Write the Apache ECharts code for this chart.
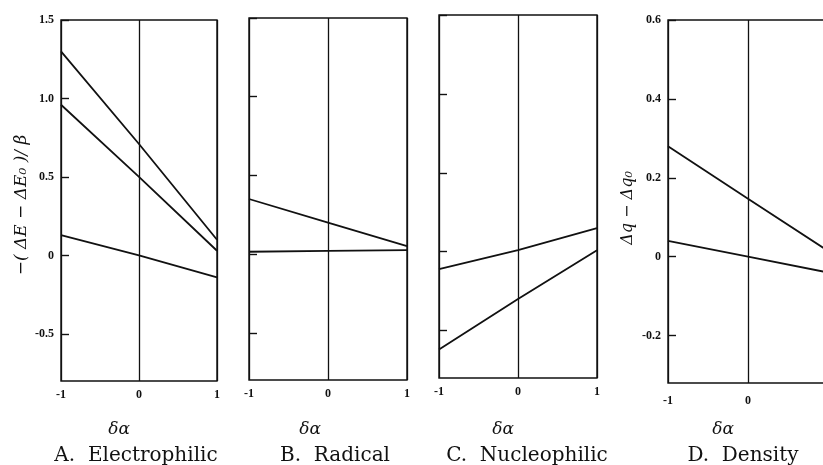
<!DOCTYPE html>
<html><head><meta charset="utf-8">
<script src="https://cdn.jsdelivr.net/npm/echarts@6/dist/echarts.min.js"></script>
<style>html,body{margin:0;padding:0;background:#fff}#c{width:823px;height:465px}</style>
</head><body><div id="c"></div>
<script>
// ---- data ----
var xVals = [-1, 0, 1];
var xTicks = [-1, 0, 1];
// A. Electrophilic
var elecTop = [1.30, 0.71, 0.10];
var elecMid = [0.96, 0.50, 0.03];
var elecLow = [0.13, 0.00, -0.14];
// B. Radical
var radTop = [0.35, 0.20, 0.05];
var radFlat = [0.015, 0.02, 0.025];
// C. Nucleophilic
var nucTop = [-0.11, 0.01, 0.15];
var nucLow = [-0.62, -0.30, 0.01];
// D. Density
var denTop = [0.28, 0.147, 0.015];
var denLow = [0.04, 0.00, -0.04];
var yTicksE = [-0.5, 0, 0.5, 1.0, 1.5];
var yTicksD = [-0.2, 0, 0.2, 0.4, 0.6];
var captions = ['A.  Electrophilic', 'B.  Radical', 'C.  Nucleophilic', 'D.  Density'];
var xName = 'δα';
var yNameE = '−( ΔE − ΔE₀ )/ β';
var yNameD = 'Δq − Δq₀';

function pts(ys){ return xVals.map(function(x,i){ return [x, ys[i]]; }); }
function fmt(v){ return v === 0 ? '0' : v.toFixed(1); }

var grids = [
  {left: 61, top: 20, width: 156, height: 361},
  {left: 249, top: 18, width: 158, height: 362},
  {left: 439, top: 15, width: 158, height: 363},
  {left: 668, top: 20, width: 160, height: 363}
];
var yRanges = [[-0.8, 1.5], [-0.8, 1.5], [-0.8, 1.5], [-0.32, 0.6]];
var yTickSets = [yTicksE, yTicksE, yTicksE, yTicksD];
var showYLabels = [true, false, false, true];

var serif = 'Liberation Serif';
var option = {
  animation: false,
  backgroundColor: '#fff',
  grid: grids.map(function(g){ return Object.assign({show: true, outerBoundsMode: 'none', containLabel: false, borderColor: '#111', borderWidth: 1.4, backgroundColor: 'transparent'}, g); }),
  xAxis: grids.map(function(g, i){
    return {
      type: 'value', gridIndex: i, min: -1, max: 1, interval: 1,
      axisLine: {show: false, onZero: false},
      axisTick: {show: false},
      splitLine: {show: true, lineStyle: {color: '#111', width: 1.3}},
      axisLabel: {margin: i === 3 ? 12 : 8, color: '#111', fontFamily: serif, fontSize: 12, fontWeight: 'bold'}
    };
  }),
  yAxis: grids.map(function(g, i){
    return {
      type: 'value', gridIndex: i, min: yRanges[i][0], max: yRanges[i][1],
      axisLine: {show: false, onZero: false},
      splitLine: {show: false},
      axisTick: {show: true, inside: true, length: 8, customValues: yTickSets[i], lineStyle: {color: '#111', width: 1.4}},
      axisLabel: {show: showYLabels[i], customValues: yTickSets[i], formatter: fmt, margin: 7, color: '#111', fontFamily: serif, fontSize: 12, fontWeight: 'bold'}
    };
  }),
  series: [
    [0, elecTop], [0, elecMid], [0, elecLow],
    [1, radTop], [1, radFlat],
    [2, nucTop], [2, nucLow],
    [3, denTop], [3, denLow]
  ].map(function(s){
    return {type: 'line', xAxisIndex: s[0], yAxisIndex: s[0], data: pts(s[1]), showSymbol: false, symbol: 'none',
      lineStyle: {color: '#111', width: 1.8}, silent: true};
  }),
  graphic: [
    {type: 'text', x: 119, y: 430, style: {text: xName, font: 'italic 17px "DejaVu Serif"', fill: '#111', align: 'center', verticalAlign: 'middle'}},
    {type: 'text', x: 310, y: 430, style: {text: xName, font: 'italic 17px "DejaVu Serif"', fill: '#111', align: 'center', verticalAlign: 'middle'}},
    {type: 'text', x: 503, y: 430, style: {text: xName, font: 'italic 17px "DejaVu Serif"', fill: '#111', align: 'center', verticalAlign: 'middle'}},
    {type: 'text', x: 723, y: 430, style: {text: xName, font: 'italic 17px "DejaVu Serif"', fill: '#111', align: 'center', verticalAlign: 'middle'}},
    {type: 'text', x: 136, y: 456, style: {text: captions[0], font: '20px "DejaVu Serif"', fill: '#111', align: 'center', verticalAlign: 'middle'}},
    {type: 'text', x: 335, y: 456, style: {text: captions[1], font: '20px "DejaVu Serif"', fill: '#111', align: 'center', verticalAlign: 'middle'}},
    {type: 'text', x: 527, y: 456, style: {text: captions[2], font: '20px "DejaVu Serif"', fill: '#111', align: 'center', verticalAlign: 'middle'}},
    {type: 'text', x: 743, y: 456, style: {text: captions[3], font: '20px "DejaVu Serif"', fill: '#111', align: 'center', verticalAlign: 'middle'}},
    {type: 'text', x: 22, y: 205, rotation: Math.PI/2, style: {text: yNameE, font: 'italic 17px "DejaVu Serif"', fill: '#111', align: 'center', verticalAlign: 'middle'}},
    {type: 'text', x: 628, y: 208, rotation: Math.PI/2, style: {text: yNameD, font: 'italic 16px "DejaVu Serif"', fill: '#111', align: 'center', verticalAlign: 'middle'}}
  ]
};
var chart = echarts.init(document.getElementById('c'), null, {renderer: 'canvas'});
chart.setOption(option);
</script></body></html>
